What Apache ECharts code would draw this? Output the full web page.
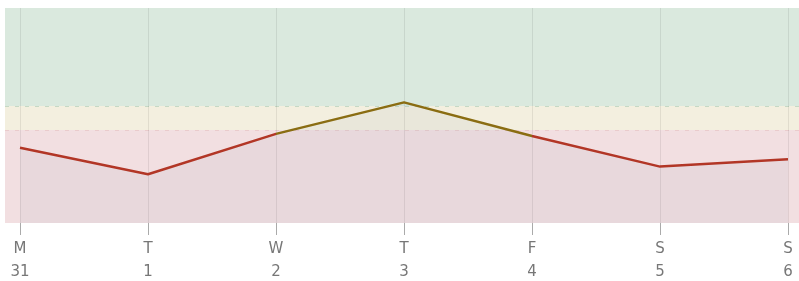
<!DOCTYPE html>
<html lang="en">

<head>
    <meta charset="UTF-8">
    <title>Week</title>
    <style>
        * {
            margin: 0;
            padding: 0;
        }

        html,
        body {
            height: 100%;
            background: #fff;
        }

        #box {
            width: 799px;
            height: 281px;
        }
    </style>
    <script src="https://cdn.jsdelivr.net/npm/echarts@6/dist/echarts.min.js"></script>
</head>

<body>
    <div id="box"></div>

    <script>
        // data
        var days = ['M', 'T', 'W', 'T', 'F', 'S', 'S'];
        var dates = ['31', '1', '2', '3', '4', '5', '6'];
        var values = [3.15, 2.04, 3.73, 5.05, 3.64, 2.36, 2.67];
        var yMax = 9;
        var lowLimit = 3.89;   // top of red band
        var highLimit = 4.9;   // top of yellow band

        var labels = days.map(function (d, i) {
            return d + '\n' + dates[i];
        });

        var myChart = echarts.init(document.getElementById('box'));

        myChart.setOption({
            animation: false,
            grid: [
                { left: 5, right: 0, top: 8, bottom: 58, outerBoundsMode: 'none' },
                { left: 20, right: 11, top: 8, bottom: 58, outerBoundsMode: 'none' }
            ],
            xAxis: [
                { gridIndex: 0, type: 'value', min: 0, max: 1, show: false },
                {
                    gridIndex: 1,
                    type: 'category',
                    data: labels,
                    boundaryGap: false,
                    z: 3,
                    axisLine: { show: true, lineStyle: { color: 'rgba(0,0,0,0)' } },
                    axisTick: { show: true, interval: 0, length: 12, lineStyle: { color: '#aaaaaa', width: 1 } },
                    axisLabel: {
                        color: '#777777',
                        fontFamily: 'DejaVu Sans',
                        fontSize: 15,
                        lineHeight: 23,
                        margin: 15
                    },
                    splitLine: { show: true, lineStyle: { color: 'rgba(0,0,0,0.08)', width: 1 } }
                }
            ],
            yAxis: [
                { gridIndex: 0, type: 'value', min: 0, max: yMax, show: false },
                { gridIndex: 1, type: 'value', min: 0, max: yMax, show: false }
            ],
            visualMap: {
                type: 'piecewise',
                show: false,
                dimension: 0,
                seriesIndex: 1,
                pieces: [
                    { lt: 2, color: '#b23626' },
                    { gte: 2, lte: 4, color: '#8a6d12' },
                    { gt: 4, color: '#b23626' }
                ]
            },
            series: [
                {
                    // background bands
                    type: 'line',
                    xAxisIndex: 0,
                    yAxisIndex: 0,
                    z: 1,
                    data: [],
                    markArea: {
                        silent: true,
                        z: 1,
                        data: [
                            [{ yAxis: highLimit, itemStyle: { color: '#dae9de' } }, { yAxis: yMax }],
                            [{ yAxis: lowLimit, itemStyle: { color: '#f3efdf' } }, { yAxis: highLimit }],
                            [{ yAxis: 0, itemStyle: { color: '#f2dfe1' } }, { yAxis: lowLimit }]
                        ]
                    },
                    markLine: {
                        silent: true,
                        z: 2,
                        symbol: 'none',
                        label: { show: false },
                        data: [
                            { yAxis: highLimit, lineStyle: { color: '#c6d8c4', type: [4, 6], width: 1 } },
                            { yAxis: lowLimit, lineStyle: { color: '#eacbcc', type: [4, 6], width: 1 } }
                        ]
                    }
                },
                {
                    type: 'line',
                    xAxisIndex: 1,
                    yAxisIndex: 1,
                    z: 4,
                    data: values,
                    symbol: 'none',
                    lineStyle: { width: 2.5 },
                    areaStyle: { color: 'rgba(120,140,160,0.08)', opacity: 1 }
                }
            ]
        });
    </script>
</body>

</html>
